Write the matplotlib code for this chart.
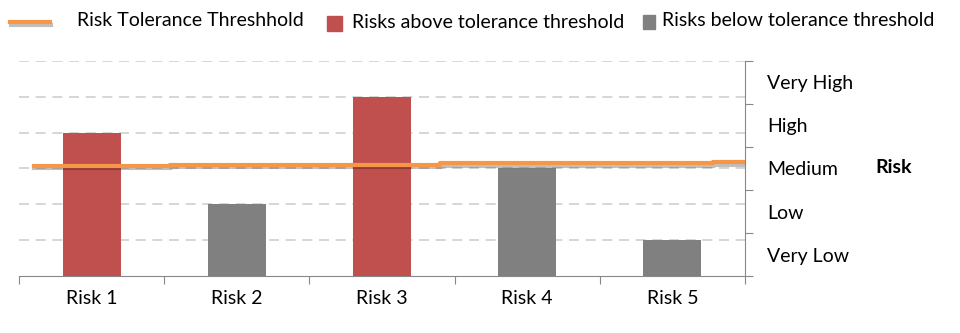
import numpy as np
import matplotlib.pyplot as plt
import matplotlib.patheffects as pe
from matplotlib.lines import Line2D
from matplotlib.patches import Rectangle

risks = ["Risk 1", "Risk 2", "Risk 3", "Risk 4", "Risk 5"]
scores = [4, 2, 5, 3, 1]
above = [True, False, True, False, False]
levels = ["Very Low", "Low", "Medium", "High", "Very High"]

# threshold line (slightly stepped, as drawn in the original)
thr_x = [-0.4, 0.54, 2.4, 4.28, 4.5]
thr_y = [3.08, 3.11, 3.14, 3.18, 3.18]

red = "#c0504d"
gray = "#808080"
orange = "#f79646"

plt.rcParams["font.family"] = ["Lato", "DejaVu Sans"]
fs = 14

fig = plt.figure(figsize=(9.6, 3.33), dpi=100)
ax = fig.add_axes([0.0198, 0.171, 0.7562, 0.646])

x = np.arange(len(risks))
colors = [red if a else gray for a in above]
ax.bar(x, scores, width=0.4, color=colors, zorder=3)
ax.step(thr_x, thr_y, where="post", color=orange, lw=3, zorder=4,
        path_effects=[pe.SimpleLineShadow(offset=(0.5, -2), alpha=0.25), pe.Normal()])

ax.set_xlim(-0.5, 4.5)
ax.set_ylim(0, 6)
ax.set_yticks(range(1, 7))
ax.yaxis.grid(True, color="#d0d0d0", lw=1.2, dashes=(6, 4), zorder=0)

ax.set_xticks(np.arange(-0.5, 5, 1))
ax.set_xticklabels([])
ax.set_xticks(x, minor=True)
ax.set_xticklabels(risks, minor=True, fontsize=fs)
ax.tick_params(axis="x", which="major", direction="out", length=6, color="#888888")
ax.tick_params(axis="x", which="minor", length=0, pad=10)

for s in ["left", "top", "right"]:
    ax.spines[s].set_visible(False)
ax.spines["bottom"].set_color("#888888")

ax2 = ax.twinx()
ax.tick_params(axis="y", which="both", left=False, right=False,
               labelleft=False, labelright=False)
ax2.set_ylim(0, 5)
ax2.set_yticks(range(6))
ax2.set_yticklabels([])
ax2.set_yticks(np.arange(0.5, 5, 1), minor=True)
ax2.set_yticklabels(levels, minor=True, fontsize=fs)
ax2.tick_params(axis="y", which="major", direction="out", length=6, color="#888888")
ax2.tick_params(axis="y", which="minor", length=0, pad=16)
for s in ["left", "top", "bottom"]:
    ax2.spines[s].set_visible(False)
ax2.spines["right"].set_color("#888888")
fig.text(875 / 960, 1 - 168 / 333, "Risk", fontsize=fs, fontweight="bold", va="center")

# legend along the top, placed like the original
W, H = 960, 333
fig.add_artist(Line2D([10 / W, 50 / W], [1 - 22 / H] * 2, color=orange, lw=3,
                      path_effects=[pe.SimpleLineShadow(offset=(0.5, -2), alpha=0.25),
                                    pe.Normal()]))
fig.text(77 / W, 1 - 21 / H, "Risk Tolerance Threshhold", fontsize=fs, va="center")
fig.add_artist(Rectangle((327 / W, 1 - 31 / H), 15 / W, 15 / H, color=red))
fig.text(352 / W, 1 - 23 / H, "Risks above tolerance threshold", fontsize=fs, va="center")
fig.add_artist(Rectangle((643 / W, 1 - 29 / H), 12 / W, 14 / H, color=gray))
fig.text(662 / W, 1 - 21 / H, "Risks below tolerance threshold", fontsize=fs, va="center")

fig.savefig("out.png", dpi=100)
